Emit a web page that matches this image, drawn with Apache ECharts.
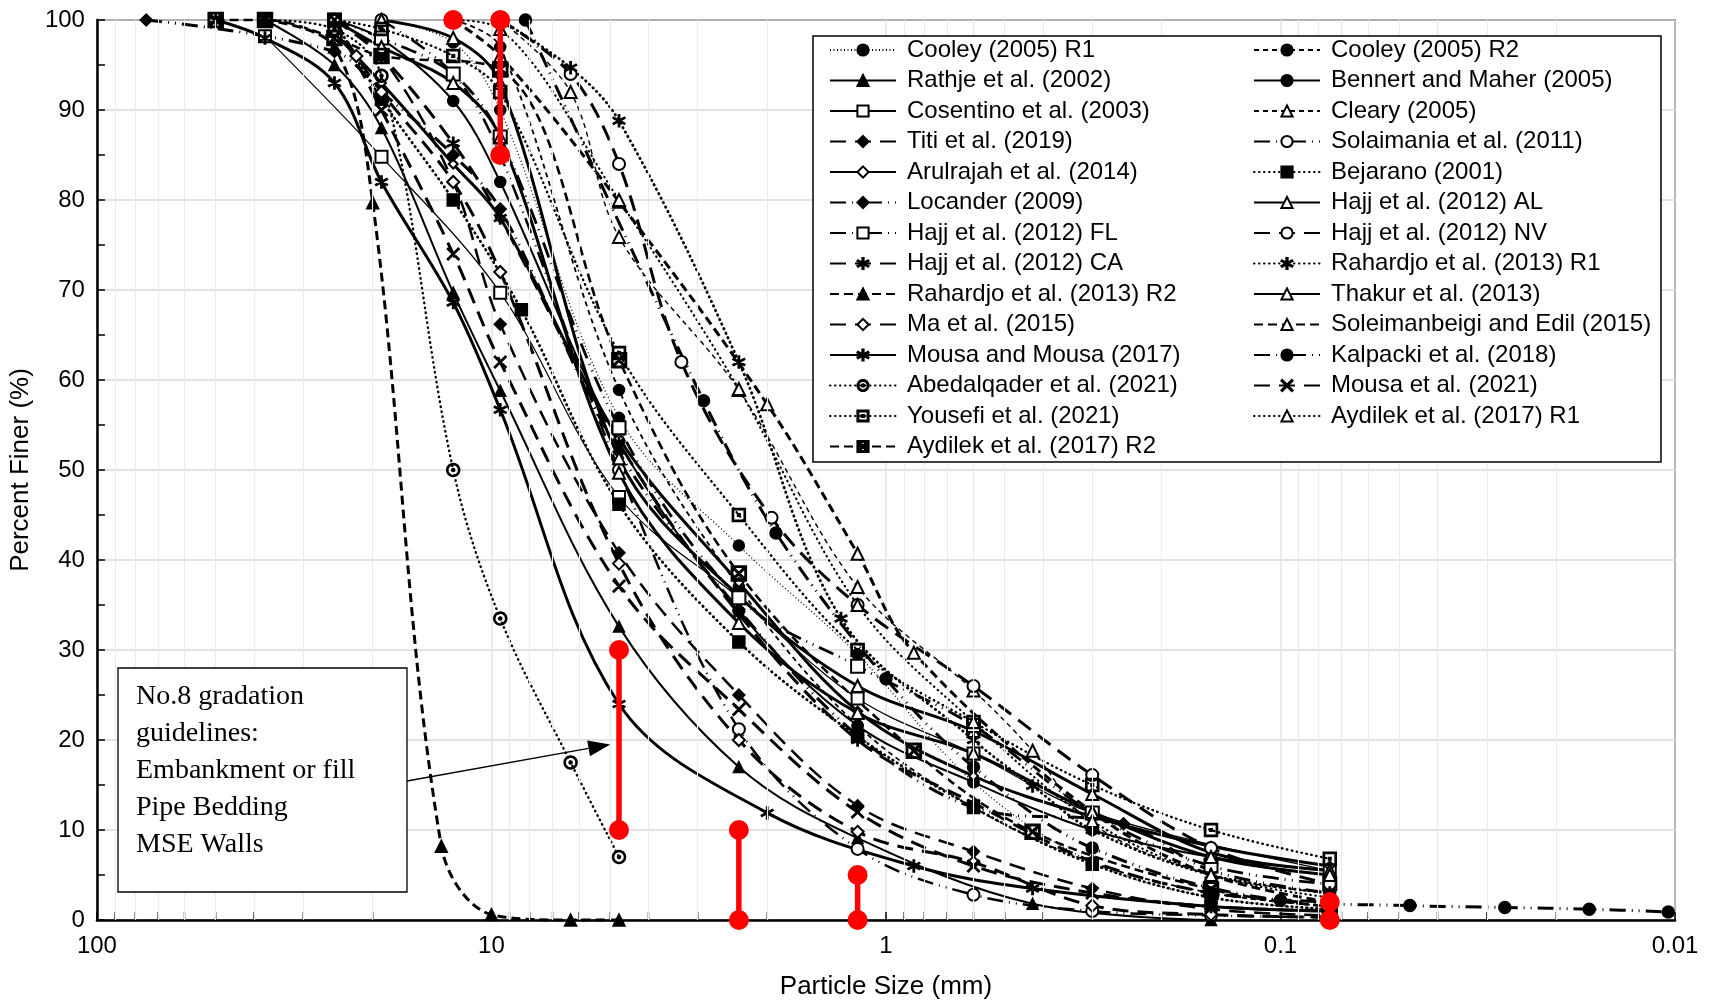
<!DOCTYPE html>
<html><head><meta charset="utf-8">
<script src="https://cdn.jsdelivr.net/npm/echarts@6/dist/echarts.min.js"></script>
<style>html,body{margin:0;padding:0;background:#fff}#c{width:1711px;height:1005px}</style>
</head><body><div id="c"></div>
<script>
// ---------------- DATA (particle size mm, percent finer %) ----------------
const cooleyR1 = [[19,100],[12.5,97.5],[9.5,90],[4.75,55.8],[2.36,41.6],[1.18,29.5],[0.6,15.3],[0.3,6.4],[0.15,2.5],[0.075,1.2]];
const cooleyR2 = [[12.5,100],[9.5,97],[4.75,58.9],[2.36,37],[1.18,21.6],[0.6,12.5],[0.3,6.4],[0.15,3],[0.075,1.5]];
const rathje = [[37.5,100],[25,95],[19,88],[12.5,69.7],[9.5,58.8],[4.75,32.6],[2.36,17],[1.18,9.1],[0.425,1.8],[0.15,0]];
const bennert = [[25,100],[19,97.9],[12.5,91],[9.5,82],[4.75,53.1],[2.36,34.3],[1.18,21.6],[0.6,15.3],[0.3,10],[0.15,7],[0.075,5.5]];
const cosentino = [[37.5,98.2],[19,84.8],[9.5,69.7],[4.75,47],[2.36,35.8],[1.18,24.6],[0.6,18.5],[0.3,11.9],[0.075,5.5]];
const cleary = [[9.5,100],[6.3,92],[4.75,75.9],[2.36,58.9],[1.18,37],[0.6,25.5],[0.425,18.8],[0.3,10.7],[0.15,5],[0.075,3]];
const titi = [[25,100],[19,96],[12.5,82],[9.5,66.2],[4.75,40.8],[2.36,25],[1.18,12.7],[0.6,7.6],[0.3,3.5],[0.15,1.2],[0.075,0.5]];
const solaimania = [[19,100],[12.5,94],[9.5,85],[4.75,50],[2.36,21.2],[1.18,7.9],[0.6,2.8],[0.3,1],[0.15,0.5],[0.075,0.3]];
const arulrajah = [[25,98.5],[19,93],[12.5,84],[9.5,78],[4.75,53.5],[2.36,37.5],[1.18,23.2],[0.6,16],[0.3,11.5],[0.15,8.2],[0.075,6]];
const bejarano = [[25,100],[19,91.2],[12.5,80],[8.4,67.8],[4.75,46.2],[2.36,30.9],[1.18,20.4],[0.6,12.5],[0.3,6.2],[0.15,2.5],[0.075,1.2]];
const locander = [[75,100],[25,96.5],[19,92],[12.5,85],[9.5,79],[4.75,52],[2.36,34.5],[1.18,20.5],[0.6,12.5],[0.25,10.7],[0.15,5.5],[0.075,3]];
const hajjAL = [[19,100],[12.5,98],[9.5,93],[4.75,51.3],[2.36,36],[1.18,26],[0.6,21],[0.3,14],[0.15,7.5],[0.075,5.5]];
const hajjFL = [[25,100],[19,98],[12.5,94],[9.5,87],[4.75,54.7],[2.36,35.8],[1.18,28.2],[0.6,21.6],[0.3,11.9],[0.15,6],[0.075,4]];
const hajjNV = [[9.5,100],[6.3,94],[4.75,84],[3.3,62],[1.95,44.7],[1.18,35],[0.6,26],[0.3,16.1],[0.15,8],[0.075,4]];
const hajjCA = [[25,100],[19,96],[12.5,86.3],[9.5,78],[4.75,53],[2.36,34],[1.18,20],[0.6,13],[0.3,6.5],[0.15,3],[0.075,2]];
const rahardjoR1 = [[9.5,100],[6.3,94.7],[4.75,88.8],[2.36,62],[1.3,33.5],[0.6,20],[0.425,14.9],[0.3,10],[0.15,5],[0.075,3]];
const rahardjoR2 = [[37.5,100],[25,97],[20,79.7],[13.4,8.2],[10,0.6],[6.3,0],[4.75,0]];
const thakur = [[25,100],[19,97],[12.5,93],[9.5,87],[4.75,49.7],[2.36,33],[1.18,23],[0.6,18.5],[0.3,12],[0.15,7],[0.075,5]];
const ma = [[25,100],[22,96],[19,92],[12.5,82],[9.5,72],[4.75,39.6],[2.36,20],[1.18,9.8],[0.6,6.4],[0.3,1.6],[0.15,0.6],[0.075,0.3]];
const soleimanbeigi = [[12.5,100],[9.5,96],[4.75,79.8],[2.0,57.3],[1.18,40.7],[0.85,29.7],[0.3,12],[0.15,5],[0.075,2]];
const mousaMousa = [[50,100],[37.5,98],[25,93],[19,82],[12.5,68.6],[9.5,56.7],[4.75,24],[2.0,11.9],[0.85,6],[0.425,3.5],[0.15,1.5],[0.075,1]];
const kalpacki = [[8.2,100],[2.9,57.7],[1.9,43],[1.0,26.8],[0.6,17],[0.3,8],[0.1,2.2],[0.047,1.6],[0.027,1.4],[0.0165,1.2],[0.0104,0.9]];
const abedalqader = [[37.5,100],[25,99],[19,93.8],[12.5,50],[9.5,33.5],[6.3,17.5],[4.75,7]];
const mousa2021 = [[25,100],[19,90],[12.5,74],[9.5,62],[4.75,37.1],[2.36,23.4],[1.18,12],[0.6,6],[0.3,3],[0.15,1.5],[0.075,1]];
const yousefi = [[25,100],[19,99],[12.5,96],[9.5,92],[4.75,63],[2.36,45],[1.18,30],[0.6,22],[0.3,15],[0.15,10],[0.075,6.8]];
const aydilekR1 = [[12.5,100],[9.5,99],[4.75,80],[2.36,59],[1.18,35],[0.6,22],[0.3,11],[0.15,5],[0.075,2.5]];
const aydilekR2 = [[50,100],[37.5,100],[25,98],[19,96],[9.5,94.5],[4.75,62.2],[2.36,38.5],[0.85,18.8],[0.425,9.8],[0.15,3.4],[0.075,1.5]];

// No.8 gradation guideline bands (size, % finer)
const no8Top = [[12.5,100]];
const no8Band95 = [[9.5,100],[9.5,85]];
const no8Band475 = [[4.75,30],[4.75,10]];
const no8Band236 = [[2.36,10],[2.36,0]];
const no8Band118 = [[1.18,5],[1.18,0]];
const no8Band0075 = [[0.075,2],[0.075,0]];

const xTickLabels = {'2':'100','1':'10','0':'1','-1':'0.1','-2':'0.01'};
const leftLegend = ['Cooley (2005) R1','Rathje et al. (2002)','Cosentino et al. (2003)','Titi et al. (2019)','Arulrajah et al. (2014)','Locander (2009)','Hajj et al. (2012) FL','Hajj et al. (2012) CA','Rahardjo et al. (2013) R2','Ma et al. (2015)','Mousa and Mousa (2017)','Abedalqader et al. (2021)','Yousefi et al. (2021)','Aydilek et al. (2017) R2'];
const rightLegend = ['Cooley (2005) R2','Bennert and Maher (2005)','Cleary (2005)','Solaimania et al. (2011)','Bejarano (2001)','Hajj et al. (2012) AL','Hajj et al. (2012) NV','Rahardjo et al. (2013) R1','Thakur et al. (2013)','Soleimanbeigi and Edil (2015)','Kalpacki et al. (2018)','Mousa et al. (2021)','Aydilek et al. (2017) R1'];
const noteLines = ['No.8 gradation','guidelines:','Embankment or fill','Pipe Bedding','MSE Walls'];

// ---------------- symbols ----------------
function poly(p){return 'M'+p.map(q=>q[0].toFixed(2)+' '+q[1].toFixed(2)).join(' L')+' Z ';}
function circ(cx,cy,r,rev){const n=28,a=[];for(let i=0;i<n;i++){const t=(rev?-1:1)*i/n*2*Math.PI;a.push([cx+r*Math.cos(t),cy+r*Math.sin(t)]);}return poly(a);}
function rct(x0,y0,x1,y1,rev){const a=[[x0,y0],[x1,y0],[x1,y1],[x0,y1]];return poly(rev?a.reverse():a);}
function bar(x0,y0,x1,y1,w){const dx=x1-x0,dy=y1-y0,L=Math.hypot(dx,dy),nx=-dy/L*w/2,ny=dx/L*w/2;return poly([[x0+nx,y0+ny],[x1+nx,y1+ny],[x1-nx,y1-ny],[x0-nx,y0-ny]]);}
const SYM = {
  star: 'path://'+bar(10,0,10,20,2.0)+bar(1.3,5,18.7,15,2.0)+bar(1.3,15,18.7,5,2.0),
  cross: 'path://'+bar(1,1,19,19,2.0)+bar(1,19,19,1,2.0),
  circDot: 'path://'+circ(10,10,10,false)+circ(10,10,8.3,true)+circ(10,10,2.3,false),
  sqDot: 'path://'+rct(0,0,20,20)+rct(1.8,1.8,18.2,18.2,true)+rct(8,8,12,12),
  xbox: 'path://'+rct(0,0,20,20)+rct(1.8,1.8,18.2,18.2,true)+bar(1.5,1.5,18.5,18.5,2.0)+bar(1.5,18.5,18.5,1.5,2.0)
};

const DOT=[0.5,4.5], FINEDOT=[1,2.5], DASH=[9,5], SDASH=[5,4], LDASH=[16,9], DASHDOTDOT=[16,6,1,6,1,6];
function mk(name,data,type,width,symbol,size,z){
  return {name,type:'line',data,smooth:0.35,symbol,symbolSize:size,showSymbol:true,clip:false,z:z||2,
    lineStyle:{color:'#000',width,type,cap:(type===DOT?'round':'butt')},
    itemStyle:{color:'#000',borderColor:'#000',borderWidth:1.5},
    emphasis:{disabled:true},animation:false};
}
const series = [
  mk('Cooley (2005) R1',cooleyR1,FINEDOT,1.3,'circle',11),
  mk('Cooley (2005) R2',cooleyR2,SDASH,1.8,'circle',11),
  mk('Rathje et al. (2002)',rathje,'solid',2,'triangle',11),
  mk('Bennert and Maher (2005)',bennert,'solid',2,'circle',11),
  mk('Cosentino et al. (2003)',cosentino,'solid',1.2,'emptyRect',12),
  mk('Cleary (2005)',cleary,SDASH,1.4,'emptyTriangle',12),
  mk('Titi et al. (2019)',titi,LDASH,2.5,'diamond',12),
  mk('Solaimania et al. (2011)',solaimania,DASHDOTDOT,2.5,'emptyCircle',12),
  mk('Arulrajah et al. (2014)',arulrajah,'solid',3,'emptyDiamond',9),
  mk('Bejarano (2001)',bejarano,DOT,2.8,'rect',12),
  mk('Locander (2009)',locander,DASHDOTDOT,3,'diamond',12),
  mk('Hajj et al. (2012) AL',hajjAL,'solid',3,'emptyTriangle',12),
  mk('Hajj et al. (2012) FL',hajjFL,DASHDOTDOT,2.8,'emptyRect',13),
  mk('Hajj et al. (2012) NV',hajjNV,LDASH,3,'emptyCircle',12),
  mk('Hajj et al. (2012) CA',hajjCA,LDASH,3,SYM.star,12),
  mk('Rahardjo et al. (2013) R1',rahardjoR1,DOT,2.8,SYM.star,12),
  mk('Rahardjo et al. (2013) R2',rahardjoR2,DASH,3,'triangle',12),
  mk('Thakur et al. (2013)',thakur,'solid',3,'emptyTriangle',12),
  mk('Ma et al. (2015)',ma,LDASH,3,'emptyDiamond',12),
  mk('Soleimanbeigi and Edil (2015)',soleimanbeigi,DASH,3,'emptyTriangle',12),
  mk('Mousa and Mousa (2017)',mousaMousa,'solid',3,SYM.star,12),
  mk('Kalpacki et al. (2018)',kalpacki,DASHDOTDOT,3,'circle',12),
  mk('Abedalqader et al. (2021)',abedalqader,DOT,2.4,SYM.circDot,13),
  mk('Mousa et al. (2021)',mousa2021,LDASH,3,SYM.cross,12),
  mk('Yousefi et al. (2021)',yousefi,DOT,2.4,SYM.sqDot,13),
  mk('Aydilek et al. (2017) R1',aydilekR1,DOT,2.2,'emptyTriangle',12),
  mk('Aydilek et al. (2017) R2',aydilekR2,DASH,2.6,SYM.xbox,15)
];
// red guideline segments
[no8Top,no8Band95,no8Band475,no8Band236,no8Band118,no8Band0075].forEach((seg,i)=>{
  series.push({name:'No8_'+i,type:'line',data:seg,symbol:'circle',symbolSize:20,clip:false,z:10,
    lineStyle:{color:'#ff0000',width:5.5},itemStyle:{color:'#ff0000'},emphasis:{disabled:true},animation:false});
});
// minor grid positions of the log axis (2..9 in each decade)
const minorVals=[];
for(let e=-2;e<=1;e++){for(let m=2;m<=9;m++){minorVals.push(+(m*Math.pow(10,e)).toPrecision(3));}}
series.push({name:'minorGrid',type:'line',data:[],silent:true,z:0,
  markLine:{silent:true,symbol:['none','none'],label:{show:false},animation:false,
    lineStyle:{color:'#ececec',width:1.2,type:'solid'},data:minorVals.map(v=>({xAxis:v}))}});
series.push({name:'minorTicks',type:'scatter',data:minorVals.map(v=>[v,0]),symbol:'rect',symbolSize:[1.5,8],symbolOffset:[0,-4],
  itemStyle:{color:'#000'},silent:true,clip:false,z:3,animation:false});

const chart = echarts.init(document.getElementById('c'),null,{renderer:'canvas'});
const FONT='"Liberation Sans", Arial, sans-serif';
const legendCommon={orient:'vertical',itemWidth:66,itemHeight:14,itemGap:6.5,padding:0,
  textStyle:{fontSize:24,fontFamily:FONT,color:'#000',padding:[0,0,0,6]},selectedMode:false,z:6};
chart.setOption({
  animation:false,
  backgroundColor:'#fff',
  grid:{left:91,right:36,top:20,bottom:85,show:true,borderColor:'#000',borderWidth:1.5,backgroundColor:'transparent'},
  xAxis:{type:'log',logBase:10,min:0.01,max:100,inverse:true,
    name:'Particle Size (mm)',nameLocation:'middle',nameGap:54,
    nameTextStyle:{fontSize:26,fontFamily:FONT,color:'#000'},
    axisLine:{lineStyle:{color:'#000',width:2.5}},
    axisTick:{show:true,inside:true,length:8,lineStyle:{color:'#000',width:1.5}},
    axisLabel:{fontSize:24,fontFamily:FONT,color:'#000',margin:14,
      formatter:v=>xTickLabels[String(Math.round(Math.log10(v)))]},
    splitLine:{show:true,lineStyle:{color:'#e3e3e3',width:1.5}}},
  yAxis:{type:'value',min:0,max:100,interval:10,
    name:'Percent Finer (%)',nameLocation:'middle',nameGap:50,
    nameTextStyle:{fontSize:26,fontFamily:FONT,color:'#000'},
    axisLine:{show:true,lineStyle:{color:'#000',width:2.5}},
    axisTick:{show:true,inside:true,length:8,lineStyle:{color:'#000',width:1.5}},
    minorTick:{show:true,splitNumber:2,length:8,lineStyle:{color:'#000',width:1.5}},
    axisLabel:{fontSize:24,fontFamily:FONT,color:'#000',margin:12},
    splitLine:{show:true,lineStyle:{color:'#d9d9d9',width:1.5}}},
  legend:[
    Object.assign({left:829,top:38,data:leftLegend},legendCommon),
    Object.assign({left:1253,top:38,data:rightLegend},legendCommon)
  ],
  series
});

function drawOverlay(){
  const tip = chart.convertToPixel({gridIndex:0},[5.0,19.5]);
  const start=[407,781];
  const ang=Math.atan2(tip[1]-start[1],tip[0]-start[0]);
  const hl=22,hw=8;
  const base=[tip[0]-hl*Math.cos(ang),tip[1]-hl*Math.sin(ang)];
  const head=[[tip[0],tip[1]],[base[0]+hw*Math.sin(ang),base[1]-hw*Math.cos(ang)],[base[0]-hw*Math.sin(ang),base[1]+hw*Math.cos(ang)]];
  chart.setOption({graphic:[
    {type:'rect',z:5,shape:{x:813,y:36,width:848,height:426},style:{fill:'#fff',stroke:'#000',lineWidth:1.5}},
    {type:'rect',z:5,shape:{x:118,y:668,width:289,height:224},style:{fill:'#fff',stroke:'#000',lineWidth:1.3}},
    {type:'text',z:6,x:136,y:678,style:{text:noteLines.join('\n'),font:'28px "Liberation Serif", "Times New Roman", serif',lineHeight:37,fill:'#000'}},
    {type:'line',z:6,shape:{x1:start[0],y1:start[1],x2:base[0],y2:base[1]},style:{stroke:'#000',lineWidth:1.3}},
    {type:'polygon',z:6,shape:{points:head},style:{fill:'#000'}}
  ]});
}
drawOverlay();
</script></body></html>
